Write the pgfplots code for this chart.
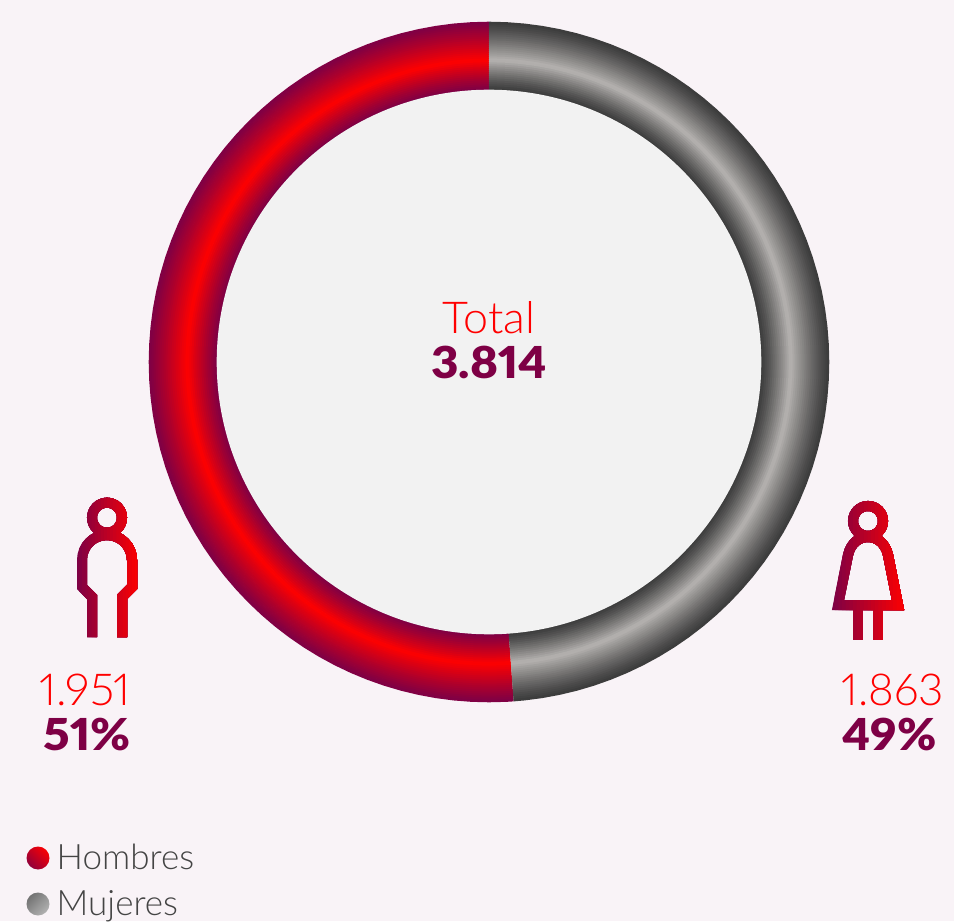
\documentclass[border=0pt]{standalone}
\usepackage{pgfplots}
\usepackage{pgfplotstable}
\usepackage{fontspec}
\pgfplotsset{compat=1.18}
\setmainfont{Lato}
\newfontfamily\lightf[Numbers=Proportional]{Lato Light}
\newfontfamily\blackf[Numbers=Proportional]{Lato Black}
\definecolor{bg}{HTML}{F9F3F7}
\definecolor{inner}{HTML}{F2F2F2}
\definecolor{maroon}{HTML}{7E0045}
\definecolor{peakred}{HTML}{FF0000}
\definecolor{gedge}{HTML}{3C3C3C}
\definecolor{gpeak}{HTML}{B6B3B1}
\definecolor{txt}{HTML}{444444}
% Share of the circle, in degrees clockwise from the top: 1863/3814 = 175.85
\pgfplotstableread[row sep=\\]{
a\\0\\3\\6\\9\\12\\15\\18\\21\\24\\27\\30\\33\\36\\39\\42\\45\\48\\51\\54\\57\\60\\63\\66\\69\\72\\75\\78\\81\\84\\87\\90\\93\\96\\99\\102\\105\\108\\111\\114\\117\\120\\123\\126\\129\\132\\135\\138\\141\\144\\147\\150\\153\\156\\159\\162\\165\\168\\171\\174\\175.85\\
}\tabMujeres
\pgfplotstableread[row sep=\\]{
a\\175.85\\177\\180\\183\\186\\189\\192\\195\\198\\201\\204\\207\\210\\213\\216\\219\\222\\225\\228\\231\\234\\237\\240\\243\\246\\249\\252\\255\\258\\261\\264\\267\\270\\273\\276\\279\\282\\285\\288\\291\\294\\297\\300\\303\\306\\309\\312\\315\\318\\321\\324\\327\\330\\333\\336\\339\\342\\345\\348\\351\\354\\357\\360\\
}\tabHombres
\begin{document}
\begin{tikzpicture}[x=1pt,y=1pt]
\fill[bg] (0,0) rectangle (954pt,921pt);
\begin{axis}[at={(0pt,0pt)},anchor=south west,width=954pt,height=921pt,scale only axis,
  xmin=0,xmax=954,ymin=0,ymax=921,y dir=reverse,hide axis,clip=false]
\foreach \r in {273,275,...,339}{%
  \pgfmathsetmacro{\t}{\r<302 ? (\r-272.5)/29.5 : (340-\r)/38}%
  \pgfmathtruncatemacro{\p}{round(100*\t^1.1)}%
  \pgfmathtruncatemacro{\q}{round(100*\t^1.2)}%
  \edef\temp{\noexpand\addplot[forget plot,no markers,line width=2.6pt,line join=round,draw=peakred!\p!maroon]
    table[x index=0,y index=0,x expr={489+\r*sin(\noexpand\thisrow{a})},y expr={362-\r*cos(\noexpand\thisrow{a})}]{\noexpand\tabHombres};
    \noexpand\addplot[forget plot,no markers,line width=2.6pt,line join=round,draw=gpeak!\q!gedge]
    table[x index=0,y index=0,x expr={489+\r*sin(\noexpand\thisrow{a})},y expr={362-\r*cos(\noexpand\thisrow{a})}]{\noexpand\tabMujeres};}%
  \temp
}
\fill[inner] (489,362) circle[radius=272.3];
\node[anchor=base,text=peakred,font=\lightf\fontsize{44}{44}\selectfont,xscale=1.02] at (489,333.5) {Total};
\node[anchor=base,text=maroon,font=\blackf\fontsize{44}{44}\selectfont,xscale=1.08] at (489,378.5) {3.814};
\node[anchor=base east,inner sep=0pt,text=peakred,font=\lightf\fontsize{44}{44}\selectfont,xscale=1.03] at (131,705) {1.951};
\node[anchor=base east,inner sep=0pt,text=maroon,font=\blackf\fontsize{44}{44}\selectfont,xscale=1.09] at (131,750) {51\%};
\node[anchor=base east,inner sep=0pt,text=peakred,font=\lightf\fontsize{44}{44}\selectfont] at (944,705) {1.863};
\node[anchor=base east,inner sep=0pt,text=maroon,font=\blackf\fontsize{44}{44}\selectfont,xscale=1.07] at (937,750) {49\%};
\node[anchor=base west,inner sep=0pt,text=txt,font=\lightf\fontsize{35}{35}\selectfont] at (56.5,869) {Hombres};
\node[anchor=base west,inner sep=0pt,text=txt,font=\lightf\fontsize{35}{35}\selectfont] at (56.5,915) {Mujeres};
\shade[bottom color=maroon!85!peakred,top color=peakred!95!maroon,shading angle=-45] (38,858) circle[radius=11.5];
\shade[top color=gray!90!black,bottom color=gray!60!white,shading angle=45] (38,904) circle[radius=11.5];
% man icon
\pgfplotsinvokeforeach{0,5,...,100}{
  \begin{scope}
  \clip ({76+#1*0.62},490) rectangle (140,645);
  \draw[line width=10pt,miter limit=10,draw=peakred!#1!maroon] (107,517.7) circle[radius=15];
  \draw[line width=10pt,miter limit=10,draw=peakred!#1!maroon] (92,637) -- (92,597) -- (82,587) -- (82,560)
     .. controls (82,546.2) and (93.2,535) .. (107,535)
     .. controls (120.8,535) and (132,546.2) .. (132,560) -- (132,587) -- (122,597) -- (122,637);
  \end{scope}
  \begin{scope}
  \clip ({831+#1*0.73},490) rectangle (906,645);
  \draw[line width=10pt,miter limit=10,draw=peakred!#1!maroon] (868,521) circle[radius=15];
  \draw[line width=10pt,miter limit=10,draw=peakred!#1!maroon] (848,555)
     .. controls (851,542) and (860,537) .. (868,537)
     .. controls (876,537) and (885,542) .. (888,555) -- (898,605) -- (838,605) -- cycle;
  \draw[line width=10pt,draw=peakred!#1!maroon] (858,605) -- (858,640);
  \draw[line width=10pt,draw=peakred!#1!maroon] (878,605) -- (878,640);
  \end{scope}
}
\end{axis}
\end{tikzpicture}
\end{document}
